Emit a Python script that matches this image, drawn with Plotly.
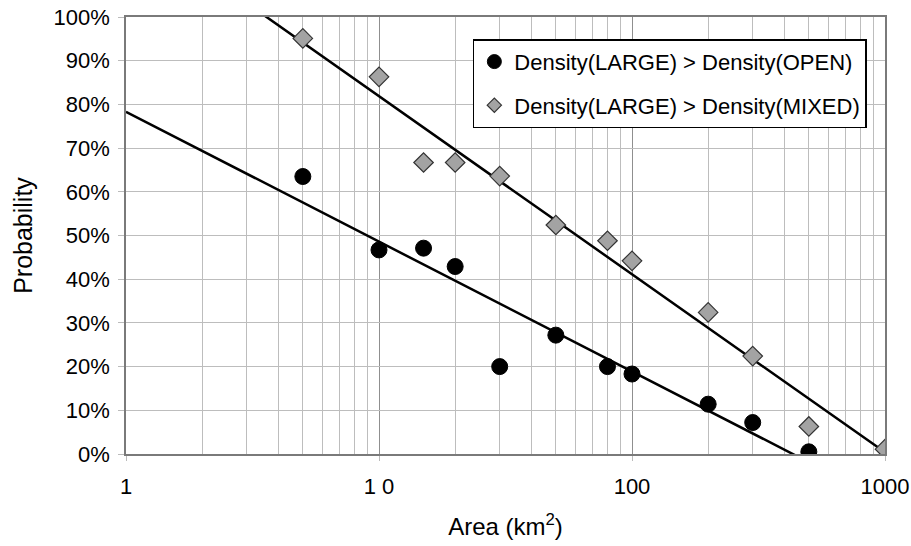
import numpy as np
import plotly.graph_objects as go

# ---- data ----
area_open = [5, 10, 15, 20, 30, 50, 80, 100, 200, 300, 500]
prob_open = [63.5, 46.7, 47.1, 42.9, 20.0, 27.2, 20.0, 18.3, 11.4, 7.2, 0.5]

area_mixed = [5, 10, 15, 20, 30, 50, 80, 100, 200, 300, 500, 1000]
prob_mixed = [95.1, 86.3, 66.7, 66.7, 63.6, 52.4, 48.8, 44.2, 32.4, 22.4, 6.3, 1.1]

name_open = "Density(LARGE) > Density(OPEN)"
name_mixed = "Density(LARGE) > Density(MIXED)"

x_tickvals = [1, 10, 100, 1000]
x_ticktext = ["1", "1 0", "100", "1000"]
x_minorvals = [m * d for d in (1, 10, 100) for m in range(2, 10)]
y_tickvals = list(range(0, 101, 10))
y_ticktext = [f"{v}%" for v in y_tickvals]

# logarithmic trend lines (least squares on log10 area), as in the original
def log_fit(xs, ys):
    b, a = np.polyfit(np.log10(xs), ys, 1)
    xx = np.logspace(0, 3, 200)
    return xx, a + b * np.log10(xx)

tx_o, ty_o = log_fit(area_open, prob_open)
tx_m, ty_m = log_fit(area_mixed, prob_mixed)

FONT = "Liberation Sans, Arial, Helvetica, sans-serif"
OPEN_MARK = dict(symbol="circle", color="black", line=dict(color="black", width=1))
MIX_MARK = dict(symbol="diamond", color="#a3a3a3", line=dict(color="#333333", width=1.2))

fig = go.Figure()
fig.add_trace(go.Scatter(x=tx_o, y=ty_o, mode="lines", line=dict(color="black", width=2.5),
                         showlegend=False, hoverinfo="skip"))
fig.add_trace(go.Scatter(x=tx_m, y=ty_m, mode="lines", line=dict(color="black", width=2.5),
                         showlegend=False, hoverinfo="skip"))
fig.add_trace(go.Scatter(x=area_open, y=prob_open, mode="markers", name=name_open,
                         legendgroup="a", showlegend=False,
                         marker=dict(size=16, **OPEN_MARK)))
fig.add_trace(go.Scatter(x=area_mixed, y=prob_mixed, mode="markers", name=name_mixed,
                         legendgroup="b", showlegend=False,
                         marker=dict(size=15, **MIX_MARK)))
# legend entries (smaller symbols, as in the original legend)
fig.add_trace(go.Scatter(x=[None], y=[None], mode="markers", name=name_open,
                         legendgroup="a", marker=dict(size=14, **OPEN_MARK)))
fig.add_trace(go.Scatter(x=[None], y=[None], mode="markers", name=name_mixed,
                         legendgroup="b", marker=dict(size=11, **MIX_MARK)))

fig.update_layout(
    width=911, height=546,
    margin=dict(l=126, r=26, t=17, b=92),
    paper_bgcolor="white", plot_bgcolor="white",
    font=dict(family=FONT, size=22, color="black"),
    legend=dict(x=0.457, y=0.949, xanchor="left", yanchor="top",
                bgcolor="white", bordercolor="black", borderwidth=1.5,
                font=dict(size=22), itemsizing="trace",
                traceorder="grouped", tracegroupgap=12),
)
fig.update_xaxes(
    type="log", range=[0, 3],
    tickvals=x_tickvals, ticktext=x_ticktext,
    showgrid=True, gridcolor="#8f8f8f", gridwidth=1.3,
    minor=dict(tickvals=x_minorvals, showgrid=True, gridcolor="#bdbdbd", gridwidth=1,
               ticks=""),
    showline=True, linecolor="#7a7a7a", linewidth=1.5, mirror=True,
    ticks="outside", ticklen=5, tickcolor="#bbbbbb",
    ticklabelstandoff=7,
    tickfont=dict(size=22),
    title=dict(text="Area (km<sup>2</sup>)", font=dict(size=24), standoff=20),
    automargin=False,
    zeroline=False,
)
fig.update_yaxes(
    range=[0, 100], tickvals=y_tickvals, ticktext=y_ticktext,
    showgrid=True, gridcolor="#bdbdbd", gridwidth=1,
    showline=True, linecolor="#7a7a7a", linewidth=1.5, mirror=True,
    ticks="outside", ticklen=6, tickcolor="#bbbbbb",
    ticklabelstandoff=4,
    tickfont=dict(size=22),
    title=dict(text="Probability", font=dict(size=25), standoff=14),
    automargin=False,
    zeroline=False,
)

fig.write_html("out.html", config={"displayModeBar": False},
               post_script="document.body.style.margin='0';document.body.style.padding='0';")
